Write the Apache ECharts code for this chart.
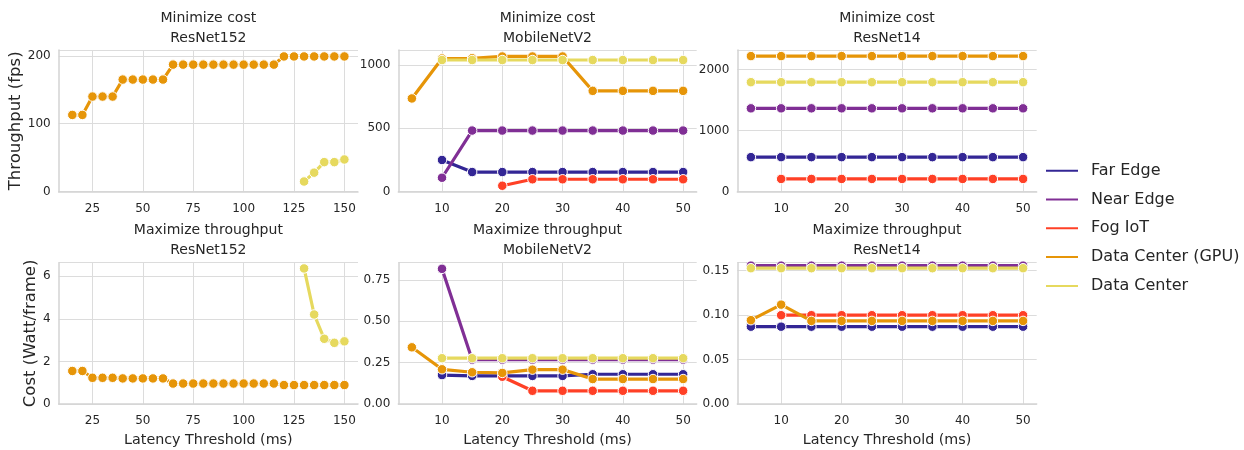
<!DOCTYPE html>
<html>
<head>
<meta charset="utf-8">
<script src="https://cdn.jsdelivr.net/npm/echarts@6/dist/echarts.min.js"></script>
<style>
html,body{margin:0;padding:0;background:#fff;}
#chart{width:1244px;height:450px;}
</style>
</head>
<body>
<div id="chart"></div>
<script>
// ---------- data ----------
const seriesNames = ['Far Edge', 'Near Edge', 'Fog IoT', 'Data Center (GPU)', 'Data Center'];
const seriesColors = ['#332695', '#802f95', '#ff4026', '#e69508', '#e6d95e'];

const latencyResNet152 = [15,20,25,30,35,40,45,50,55,60,65,70,75,80,85,90,95,100,105,110,115,120,125,130,135,140,145,150];
const latencySmall = [5,10,15,20,25,30,35,40,45,50];

// Minimize cost - throughput (fps)
const thrResNet152_GPU = [113,113,140,140,140,165,165,165,165,165,187,187,187,187,187,187,187,187,187,187,187,199,199,199,199,199,199,199];
const thrResNet152_DC  = [null,null,null,null,null,null,null,null,null,null,null,null,null,null,null,null,null,null,null,null,null,null,null,15,28,43.5,43.5,47.4];

const thrMobile_Far  = [null,250,155,155,155,155,155,155,155,155];
const thrMobile_Near = [null,110,482,482,482,482,482,482,482,482];
const thrMobile_Fog  = [null,null,null,47,98,98,98,98,98,98];
const thrMobile_GPU  = [735,1050,1052,1066,1066,1066,795,795,795,795];
const thrMobile_DC   = [null,1038,1038,1038,1038,1038,1038,1038,1038,1038];

const thrRes14_Far  = [566,566,566,566,566,566,566,566,566,566];
const thrRes14_Near = [1365,1365,1365,1365,1365,1365,1365,1365,1365,1365];
const thrRes14_Fog  = [null,209,209,209,209,209,209,209,209,209];
const thrRes14_GPU  = [2220,2220,2220,2220,2220,2220,2220,2220,2220,2220];
const thrRes14_DC   = [1793,1793,1793,1793,1793,1793,1793,1793,1793,1793];

// Maximize throughput - cost (Watt/frame)
const costResNet152_GPU = [1.55,1.55,1.23,1.23,1.23,1.2,1.2,1.2,1.2,1.2,0.96,0.96,0.96,0.96,0.96,0.96,0.96,0.96,0.96,0.96,0.96,0.89,0.89,0.89,0.89,0.89,0.89,0.89];
const costResNet152_DC  = [null,null,null,null,null,null,null,null,null,null,null,null,null,null,null,null,null,null,null,null,null,null,null,6.36,4.2,3.06,2.87,2.94];

const costMobile_Far  = [null,0.175,0.17,0.17,0.17,0.17,0.18,0.18,0.18,0.18];
const costMobile_Near = [null,0.818,0.268,0.268,0.268,0.268,0.268,0.268,0.268,0.268];
const costMobile_Fog  = [null,null,null,0.165,0.08,0.08,0.08,0.08,0.08,0.08];
const costMobile_GPU  = [0.343,0.21,0.192,0.188,0.208,0.208,0.151,0.151,0.151,0.151];
const costMobile_DC   = [null,0.277,0.277,0.277,0.277,0.277,0.277,0.277,0.277,0.277];

const costRes14_Far  = [0.087,0.087,0.087,0.087,0.087,0.087,0.087,0.087,0.087,0.087];
const costRes14_Near = [0.1557,0.1557,0.1557,0.1557,0.1557,0.1557,0.1557,0.1557,0.1557,0.1557];
const costRes14_Fog  = [null,0.0999,0.0999,0.0999,0.0999,0.0999,0.0999,0.0999,0.0999,0.0999];
const costRes14_GPU  = [0.0943,0.1118,0.0935,0.0935,0.0935,0.0935,0.0935,0.0935,0.0935,0.0935];
const costRes14_DC   = [0.1528,0.1528,0.1528,0.1528,0.1528,0.1528,0.1528,0.1528,0.1528,0.1528];

const xTicksResNet152 = [25,50,75,100,125,150];
const xTicksSmall = [10,20,30,40,50];

const panelTitles = [
  'Minimize cost\nResNet152', 'Minimize cost\nMobileNetV2', 'Minimize cost\nResNet14',
  'Maximize throughput\nResNet152', 'Maximize throughput\nMobileNetV2', 'Maximize throughput\nResNet14'
];

// ---------- layout ----------
const FONT = 'DejaVu Sans';
const TXT = '#262626';
const colLeft = [58.7, 398.3, 737.3];
const colWidth = [299.3, 298.4, 299.4];
const rowTop = [50, 262.7];
const rowHeight = [141.7, 141.3];

const panels = [
  {x: latencyResNet152, ticks: xTicksResNet152, xmin: 8.25, xmax: 156.75, ymax: 208.5, yint: 100, dec: 0,
   data: [null, null, null, thrResNet152_GPU, thrResNet152_DC]},
  {x: latencySmall, ticks: xTicksSmall, xmin: 2.75, xmax: 52.25, ymax: 1117, yint: 500, dec: 0,
   data: [thrMobile_Far, thrMobile_Near, thrMobile_Fog, thrMobile_GPU, thrMobile_DC]},
  {x: latencySmall, ticks: xTicksSmall, xmin: 2.75, xmax: 52.25, ymax: 2320, yint: 1000, dec: 0,
   data: [thrRes14_Far, thrRes14_Near, thrRes14_Fog, thrRes14_GPU, thrRes14_DC]},
  {x: latencyResNet152, ticks: xTicksResNet152, xmin: 8.25, xmax: 156.75, ymax: 6.63, yint: 2, dec: 0,
   data: [null, null, null, costResNet152_GPU, costResNet152_DC]},
  {x: latencySmall, ticks: xTicksSmall, xmin: 2.75, xmax: 52.25, ymax: 0.855, yint: 0.25, dec: 2,
   data: [costMobile_Far, costMobile_Near, costMobile_Fog, costMobile_GPU, costMobile_DC]},
  {x: latencySmall, ticks: xTicksSmall, xmin: 2.75, xmax: 52.25, ymax: 0.159, yint: 0.05, dec: 2,
   data: [costRes14_Far, costRes14_Near, costRes14_Fog, costRes14_GPU, costRes14_DC]}
];

const grids = [], xAxes = [], yAxes = [], titles = [], series = [];
panels.forEach((p, i) => {
  const row = Math.floor(i / 3), col = i % 3;
  grids.push({left: colLeft[col], top: rowTop[row], width: colWidth[col], height: rowHeight[row], containLabel: false});
  titles.push({
    text: panelTitles[i], left: colLeft[col] + colWidth[col] / 2, top: row === 0 ? 8 : 220.5,
    textAlign: 'center', padding: 0,
    textStyle: {fontFamily: FONT, fontSize: 14, fontWeight: 'normal', color: TXT, lineHeight: 20}
  });
  xAxes.push({
    type: 'value', gridIndex: i, min: p.xmin, max: p.xmax,
    axisLine: {show: true, lineStyle: {color: '#d3d3d3', width: 1.5}},
    axisTick: {show: false, customValues: p.ticks},
    axisLabel: {customValues: p.ticks, fontFamily: FONT, fontSize: 12, color: TXT, margin: 11},
    splitLine: {show: true, lineStyle: {color: '#dcdcdc', width: 1}},
    name: row === 1 ? 'Latency Threshold (ms)' : '', nameLocation: 'middle', nameGap: 29,
    nameTextStyle: {fontFamily: FONT, fontSize: 14.3, color: TXT}
  });
  yAxes.push({
    type: 'value', gridIndex: i, min: 0, max: p.ymax, interval: p.yint,
    axisLine: {show: true, lineStyle: {color: '#d3d3d3', width: 1.5}},
    axisTick: {show: false},
    axisLabel: {fontFamily: FONT, fontSize: 12, color: TXT, margin: 8, showMaxLabel: false,
      formatter: v => v.toFixed(p.dec)},
    splitLine: {show: true, lineStyle: {color: '#dcdcdc', width: 1}},
    name: col === 0 ? (row === 0 ? 'Throughput (fps)' : 'Cost (Watt/frame)') : '',
    nameLocation: 'middle', nameRotate: 90, nameGap: row === 0 ? 25 : 15,
    nameTextStyle: {fontFamily: FONT, fontSize: 16.5, color: TXT}
  });
  p.data.forEach((vals, k) => {
    if (!vals) return;
    const pts = [];
    vals.forEach((v, j) => { if (v !== null) pts.push([p.x[j], v]); });
    series.push({
      name: seriesNames[k], type: 'line', xAxisIndex: i, yAxisIndex: i,
      data: pts, color: seriesColors[k],
      symbol: 'circle', symbolSize: 9.5, showSymbol: true,
      lineStyle: {width: 3.2, color: seriesColors[k]},
      itemStyle: {color: seriesColors[k], borderColor: '#ffffff', borderWidth: 1},
      z: 2 + k, emphasis: {disabled: true}
    });
  });
});

const chart = echarts.init(document.getElementById('chart'), null, {renderer: 'canvas'});
chart.setOption({
  animation: false,
  backgroundColor: '#ffffff',
  title: titles,
  grid: grids,
  xAxis: xAxes,
  yAxis: yAxes,
  legend: {
    data: seriesNames, orient: 'vertical', left: 1044, top: 160.7,
    icon: 'rect', itemWidth: 34, itemHeight: 4, itemGap: 8.8, padding: 0,
    textStyle: {fontFamily: FONT, fontSize: 16, color: TXT, lineHeight: 20, padding: [0, 0, 0, 7]}
  },
  series: series
});
</script>
</body>
</html>
